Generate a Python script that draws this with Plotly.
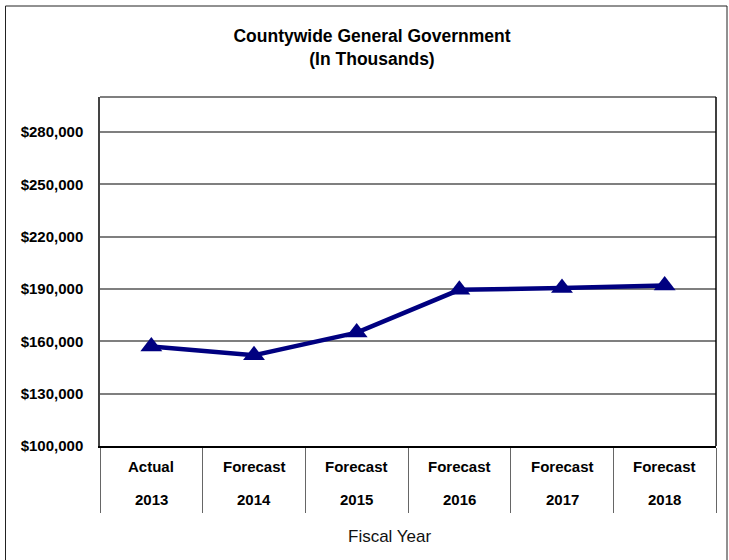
import plotly.graph_objects as go

# Fiscal years and their status (actual vs. forecast)
years = ["2013", "2014", "2015", "2016", "2017", "2018"]
status = ["Actual", "Forecast", "Forecast", "Forecast", "Forecast", "Forecast"]

# Countywide general government spending, in thousands of dollars
spending = [157000, 152000, 165000, 189500, 190500, 192000]

# Value axis ticks
y_ticks = [100000, 130000, 160000, 190000, 220000, 250000, 280000]
y_ticktext = ["${:,}".format(v) for v in y_ticks]

FONT = "Liberation Sans, Arial, sans-serif"
NAVY = "#000080"

fig = go.Figure()
fig.add_trace(go.Scatter(
    x=years,
    y=spending,
    mode="lines+markers",
    line=dict(color=NAVY, width=4.5),
    marker=dict(symbol="triangle-up", size=19, color=NAVY),
    showlegend=False,
    hoverinfo="x+y",
))

# Two-row category labels under the axis (category index positions)
label_font = dict(family=FONT, size=15, color="#000", weight="bold")
for i, (yr, st) in enumerate(zip(years, status)):
    fig.add_annotation(x=i, y=-0.060, xref="x", yref="paper", text=st,
                       showarrow=False, yanchor="middle", xanchor="center",
                       font=label_font)
    fig.add_annotation(x=i, y=-0.1547, xref="x", yref="paper", text=yr,
                       showarrow=False, yanchor="middle", xanchor="center",
                       font=label_font)

fig.add_annotation(x=0.47, y=-0.2607, xref="paper", yref="paper", text="Fiscal Year",
                   showarrow=False, yanchor="middle", xanchor="center",
                   font=dict(family=FONT, size=17, color="#111"))

# Plot-area top edge (gray) and right edge (black)
fig.add_shape(type="line", xref="paper", yref="paper", x0=0, x1=1, y0=1, y1=1,
              line=dict(color="#7f7f7f", width=2))
fig.add_shape(type="line", xref="paper", yref="paper", x0=1, x1=1, y0=0, y1=1,
              line=dict(color="#000", width=1.5))

# Outer chart frame
fig.add_shape(type="rect", xref="paper", yref="paper",
              x0=(5.5 - 100) / 616, x1=(727 - 100) / 616,
              y0=(446 - 600) / 349, y1=(446 - 6) / 349,
              line=dict(color="#222", width=1), layer="below")

fig.update_layout(
    width=729, height=560,
    margin=dict(l=100, r=13, t=97, b=114),
    paper_bgcolor="white",
    plot_bgcolor="white",
    title=dict(
        text="Countywide General Government<br>(In Thousands)",
        x=372 / 729, xanchor="center", xref="container",
        y=1 - 42 / 560, yanchor="top", yref="container",
        font=dict(family=FONT, size=17.5, color="#000", weight="bold"),
    ),
    xaxis=dict(
        type="category",
        showgrid=False,
        showline=True, linecolor="#000", linewidth=2,
        ticks="outside", tickson="boundaries", ticklen=65,
        tickcolor="#666", tickwidth=1,
        showticklabels=False,
        range=[-0.5, 5.5],
        fixedrange=True,
    ),
    yaxis=dict(
        range=[100000, 300000],
        tickvals=y_ticks, ticktext=y_ticktext,
        showgrid=True, gridcolor="#7f7f7f", gridwidth=1.5,
        showline=True, linecolor="#444", linewidth=1.5,
        zeroline=False,
        ticks="", ticklabelstandoff=12,
        tickfont=dict(family=FONT, size=15, color="#000", weight="bold"),
        fixedrange=True,
    ),
)

fig.write_html("out.html")
